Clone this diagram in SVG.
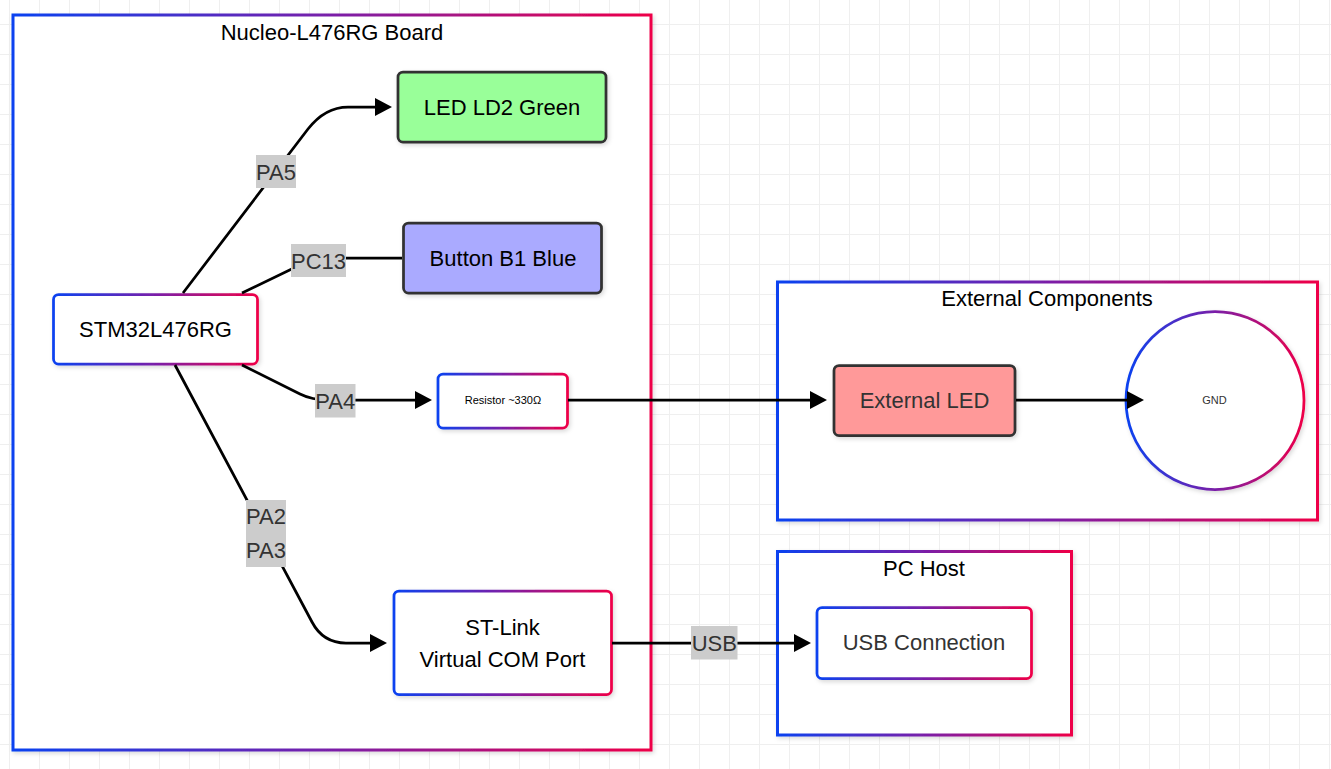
<svg xmlns="http://www.w3.org/2000/svg" width="1331" height="769" viewBox="0 0 1331 769">
<defs>
  <pattern id="grid" x="9" y="24" width="30" height="30" patternUnits="userSpaceOnUse">
    <rect x="0" y="0" width="1" height="30" fill="#efefef"/>
    <rect x="0" y="0" width="30" height="1" fill="#efefef"/>
  </pattern>
  <linearGradient id="grad" x1="0" y1="0" x2="1" y2="0">
    <stop offset="0" stop-color="#0a42f0"/>
    <stop offset="0.5" stop-color="#7a1fa8"/>
    <stop offset="1" stop-color="#ee0048"/>
  </linearGradient>
  <filter id="shadow" x="-10%" y="-10%" width="130%" height="130%">
    <feDropShadow dx="1.5" dy="2" stdDeviation="2" flood-color="#000" flood-opacity="0.15"/>
  </filter>
  <marker id="arrow" markerUnits="userSpaceOnUse" markerWidth="18" markerHeight="18" refX="6" refY="9" orient="auto">
    <path d="M0,0 L17,9 L0,18 z" fill="#000"/>
  </marker>
  <style>
    .container { fill: #fff; stroke: url(#grad); stroke-width: 3; filter: url(#shadow); }
    .node { stroke: url(#grad); stroke-width: 2.75; fill: #fff; filter: url(#shadow); }
    .dark { stroke: #333; stroke-width: 2.75; filter: url(#shadow); }
    text { font-family: "Liberation Sans", Arial, sans-serif; font-size: 22px; text-anchor: middle; dominant-baseline: central; fill: #000; }
    .title { fill: #000; }
    .gray { fill: #333; }
    .small { font-size: 11px; }
    .edge { fill: none; stroke: #000; stroke-width: 2.75; }
    .lblbg { fill: #cccccc; }
    .lbl { fill: #333; }
  </style>
</defs>
<rect width="1331" height="769" fill="#fff"/>
<rect width="1331" height="769" fill="url(#grid)"/>

<g id="board">
  <rect class="container" x="13" y="15" width="638" height="735"/>
  <text class="title" x="332" y="32.5">Nucleo-L476RG Board</text>
</g>
<g id="external">
  <rect class="container" x="777.5" y="282" width="540" height="238"/>
  <text class="title" x="1047" y="298.5">External Components</text>
</g>
<g id="pchost">
  <rect class="container" x="777.5" y="551.5" width="294" height="183.5"/>
  <text class="title" x="924" y="568">PC Host</text>
</g>

<g id="stm32">
  <rect class="node" x="53.5" y="294.5" width="204" height="69.5" rx="5"/>
  <text x="155.5" y="329.5">STM32L476RG</text>
</g>
<g id="led-ld2">
  <rect class="dark" x="398" y="72" width="208" height="70" rx="5" fill="#99ff99"/>
  <text x="502" y="107">LED LD2 Green</text>
</g>
<g id="button-b1">
  <rect class="dark" x="403.5" y="223" width="198" height="70" rx="5" fill="#aaaaff"/>
  <text x="503" y="258">Button B1 Blue</text>
</g>
<g id="resistor">
  <rect class="node" x="438" y="374" width="129.5" height="54" rx="5"/>
  <text class="small" x="503" y="400">Resistor ~330Ω</text>
</g>
<g id="stlink">
  <rect class="node" x="394" y="591" width="217.5" height="103.5" rx="5"/>
  <text x="502.5" y="627">ST-Link</text>
  <text x="502.5" y="659.5">Virtual COM Port</text>
</g>
<g id="external-led">
  <rect class="dark" x="834" y="365.5" width="181" height="70" rx="5" fill="#ff9999"/>
  <text class="gray" x="924.5" y="400.5">External LED</text>
</g>
<g id="gnd">
  <circle class="node" cx="1215" cy="400.5" r="89"/>
  <text class="small gray" x="1214.5" y="399.5">GND</text>
</g>
<g id="usb-connection">
  <rect class="node" x="817" y="607.5" width="214.5" height="71" rx="5"/>
  <text class="gray" x="924" y="642.5">USB Connection</text>
</g>

<g id="connectors">
  <path class="edge" d="M183,293 L308,129 Q325,107 348,107 L381,107" marker-end="url(#arrow)"/>
  <path class="edge" d="M242,293 L300,265 Q316,258 340,258 L402,258"/>
  <path class="edge" d="M242,365 L300,394 Q312,400 328,400 L421,400" marker-end="url(#arrow)"/>
  <path class="edge" d="M175,365 L312,622 Q323,643 346,643 L376,643" marker-end="url(#arrow)"/>
  <path class="edge" d="M568,400 L816,400" marker-end="url(#arrow)"/>
  <path class="edge" d="M1016,400 L1133,400" marker-end="url(#arrow)"/>
  <path class="edge" d="M612,643 L800,643" marker-end="url(#arrow)"/>

  <g id="label-pa5">
    <rect class="lblbg" x="256" y="155" width="40" height="33"/>
    <text class="lbl" x="276" y="172">PA5</text>
  </g>
  <g id="label-pc13">
    <rect class="lblbg" x="291" y="244" width="55" height="33"/>
    <text class="lbl" x="318.5" y="261">PC13</text>
  </g>
  <g id="label-pa4">
    <rect class="lblbg" x="315" y="384" width="40.5" height="33.5"/>
    <text class="lbl" x="335.3" y="401">PA4</text>
  </g>
  <g id="label-pa2pa3">
    <rect class="lblbg" x="246" y="500" width="40" height="67"/>
    <text class="lbl" x="266" y="516.5">PA2</text>
    <text class="lbl" x="266" y="550">PA3</text>
  </g>
  <g id="label-usb">
    <rect class="lblbg" x="691" y="626" width="46.5" height="33.5"/>
    <text class="lbl" x="714.3" y="643">USB</text>
  </g>
</g>
</svg>
